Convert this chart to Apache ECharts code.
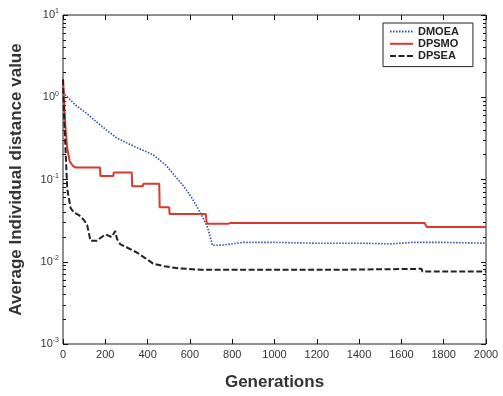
<!DOCTYPE html>
<html>
<head>
<meta charset="utf-8">
<script src="https://cdn.jsdelivr.net/npm/echarts@6/dist/echarts.min.js"></script>
<style>
  html, body { margin: 0; padding: 0; background: #fff; }
  #chart { width: 503px; height: 396px; }
</style>
</head>
<body>
<div id="chart"></div>
<script>
// values
var gensDMOEA = [0, 30, 60, 114, 180, 254, 340, 426, 489, 530, 567, 600, 629, 660, 684, 707, 760, 850, 1000, 1200, 1400, 1550, 1600, 1650, 1800, 2000];
var dmoea = [1.15, 0.95, 0.8, 0.63, 0.45, 0.32, 0.25, 0.2, 0.147, 0.11, 0.085, 0.065, 0.049, 0.035, 0.026, 0.0158, 0.016, 0.0172, 0.0172, 0.0168, 0.0168, 0.0165, 0.0168, 0.0172, 0.0172, 0.0168];

var gensDPSMO = [0, 6, 12, 20, 32, 48, 60, 175, 177, 238, 240, 325, 327, 378, 380, 455, 457, 502, 504, 580, 585, 675, 680, 780, 790, 1710, 1720, 2000];
var dpsmo = [1.65, 0.8, 0.42, 0.24, 0.165, 0.145, 0.14, 0.14, 0.11, 0.11, 0.122, 0.122, 0.083, 0.083, 0.089, 0.089, 0.046, 0.046, 0.038, 0.038, 0.039, 0.038, 0.029, 0.029, 0.0295, 0.0295, 0.0265, 0.0265];

var gensDPSEA = [0, 5, 12, 20, 36, 50, 75, 100, 114, 130, 160, 200, 230, 247, 255, 270, 300, 348, 390, 426, 480, 551, 650, 800, 1000, 1316, 1320, 1695, 1700, 2000];
var dpsea = [1.65, 0.6, 0.23, 0.077, 0.045, 0.04, 0.037, 0.032, 0.028, 0.018, 0.018, 0.0215, 0.02, 0.0236, 0.019, 0.0164, 0.015, 0.013, 0.011, 0.0095, 0.0088, 0.0083, 0.008, 0.008, 0.008, 0.008, 0.0082, 0.0082, 0.0076, 0.0076];

var yMinor = [];
[-3, -2, -1, 0].forEach(function (d) {
  for (var k = 2; k <= 9; k++) yMinor.push(Number((k * Math.pow(10, d)).toPrecision(3)));
});

var pairs = function (xs, ys) { return xs.map(function (x, i) { return [x, ys[i]]; }); };

var font = 'Arial, "Liberation Sans", sans-serif';
var chart = echarts.init(document.getElementById('chart'));

// box is the grid border, axes only carry ticks and labels
var logAxis = function (pos, minor, labels) {
  var tick = { show: true, inside: true, length: minor ? 3 : 5, lineStyle: { color: '#111', width: 1 } };
  if (minor) tick.customValues = yMinor;
  return {
    type: 'log',
    logBase: 10,
    min: 0.001,
    max: 10,
    position: pos,
    axisLine: { show: false },
    axisTick: tick,
    axisLabel: {
      show: labels,
      margin: 4,
      fontFamily: font,
      formatter: function (v) {
        return '{b|10}{s|' + Math.round(Math.log10(v)) + '}';
      },
      rich: {
        b: { fontSize: 11, color: '#333', fontFamily: font },
        s: { fontSize: 7, color: '#333', fontFamily: font, padding: [0, 0, 7, 0] }
      }
    },
    splitLine: { show: false },
    minorTick: { show: false }
  };
};

var yLeft = logAxis('left', false, true);
yLeft.name = 'Average Individual distance value';
yLeft.nameLocation = 'middle';
yLeft.nameGap = 38;
yLeft.nameTextStyle = { fontFamily: font, fontSize: 17, fontWeight: 'bold', color: '#333' };

var xAxisOf = function (pos, labels) {
  return {
    type: 'value',
    position: pos,
    min: 0,
    max: 2000,
    interval: 200,
    axisLine: { show: false },
    axisTick: { show: true, inside: true, length: 5, lineStyle: { color: '#111', width: 1 } },
    axisLabel: { show: labels, fontFamily: font, fontSize: 11, color: '#333', margin: 5, formatter: function (v) { return String(v); } },
    splitLine: { show: false }
  };
};

var xBottom = xAxisOf('bottom', true);
xBottom.name = 'Generations';
xBottom.nameLocation = 'middle';
xBottom.nameGap = 30;
xBottom.nameTextStyle = { fontFamily: font, fontSize: 17, fontWeight: 'bold', color: '#333' };

var option = {
  animation: false,
  backgroundColor: '#fff',
  grid: { show: true, left: 59, right: 17, top: 15, bottom: 44, borderColor: '#222', borderWidth: 1, backgroundColor: 'transparent' },
  legend: {
    left: 383,
    top: 23,
    orient: 'vertical',
    backgroundColor: '#fff',
    borderColor: '#222',
    borderWidth: 1,
    borderRadius: 0,
    padding: [3, 14, 5, 6],
    itemWidth: 23,
    itemHeight: 14,
    itemGap: 1,
    itemStyle: { opacity: 0 },
    textStyle: { fontFamily: font, fontSize: 11, fontWeight: 'bold', color: '#222' },
    data: ['DMOEA', 'DPSMO', 'DPSEA']
  },
  xAxis: [xBottom, xAxisOf('top', false)],
  yAxis: [yLeft, logAxis('left', true, false), logAxis('right', false, false), logAxis('right', true, false)],
  series: [{
    name: 'DMOEA',
    type: 'line',
    symbol: 'none',
    data: pairs(gensDMOEA, dmoea),
    lineStyle: { color: '#2f4ea3', width: 1.6, type: [1.5, 1.5] },
    itemStyle: { color: '#2f4ea3' }
  }, {
    name: 'DPSMO',
    type: 'line',
    symbol: 'none',
    data: pairs(gensDPSMO, dpsmo),
    lineStyle: { color: '#d93a30', width: 2 },
    itemStyle: { color: '#d93a30' }
  }, {
    name: 'DPSEA',
    type: 'line',
    symbol: 'none',
    data: pairs(gensDPSEA, dpsea),
    lineStyle: { color: '#222', width: 2, type: [6, 2.5] },
    itemStyle: { color: '#222' }
  }]
};

chart.setOption(option);
</script>
</body>
</html>
